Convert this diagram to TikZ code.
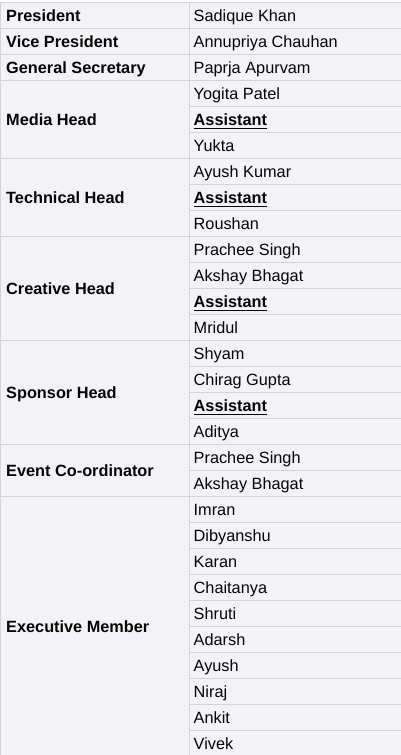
\documentclass[tikz,border=0pt]{standalone}
\usepackage{fontspec}
\setmainfont{Liberation Sans}
\definecolor{bgc}{HTML}{F3F3F7}
\definecolor{linec}{HTML}{D3D3DA}
\definecolor{txt}{HTML}{050505}
\begin{document}
\begin{tikzpicture}[x=1pt,y=-1pt,
  cell/.style={anchor=base west, inner sep=0pt, font=\fontsize{16.3}{18}\selectfont, text=txt},
  head/.style={cell, font=\fontsize{16.3}{18}\selectfont\bfseries},
  grid/.style={draw=linec, line width=1pt},
  uline/.style={draw=txt, line width=1.4pt}]
\useasboundingbox (0,0) rectangle (401,755);
\fill[bgc] (0,2.5) rectangle (401,755);
% grid lines
\foreach \k in {0,1,2,3,6,9,13,17,19}
  \draw[grid] (0,2.5+26*\k) -- (401,2.5+26*\k);
\foreach \k in {4,5,7,8,10,11,12,14,15,16,18,20,21,22,23,24,25,26,27,28}
  \draw[grid] (189,2.5+26*\k) -- (401,2.5+26*\k);
\draw[grid] (0.5,2.5) -- (0.5,755);
\draw[grid] (189,2.5) -- (189,755);
% right column
\foreach \i/\t in {0/Sadique Khan,1/Annupriya Chauhan,2/Paprja Apurvam,3/Yogita Patel,
  4/\textbf{Assistant},5/Yukta,6/Ayush Kumar,7/\textbf{Assistant},8/Roushan,
  9/Prachee Singh,10/Akshay Bhagat,11/\textbf{Assistant},12/Mridul,
  13/Shyam,14/Chirag Gupta,15/\textbf{Assistant},16/Aditya,
  17/Prachee Singh,18/Akshay Bhagat,19/Imran,20/Dibyanshu,21/Karan,22/Chaitanya,
  23/Shruti,24/Adarsh,25/Ayush,26/Niraj,27/Ankit,28/Vivek}
  \node[cell] (r\i) at (193.5,21.7+26*\i) {\t};
\foreach \n in {r4,r7,r11,r15}
  \draw[uline] ([yshift=-2.5pt]\n.base west) -- ([yshift=-2.5pt]\n.base east);
% left column
\node[head] (l0) at (6,21.7) {President};
\node[head] (l1) at (6,47.7) {Vice President};
\node[head] (l2) at (6,73.7) {General Secretary};
\node[head] (l3) at (6,125.7) {Media Head};
\node[head] (l4) at (6,203.7) {Technical Head};
\node[head] (l5) at (6,294.8) {Creative Head};
\node[head] (l6) at (6,398.8) {Sponsor Head};
\node[head] (l7) at (6,476.8) {Event Co-ordinator};
\node[head] (l8) at (6,632.8) {Executive Member};
\end{tikzpicture}
\end{document}
